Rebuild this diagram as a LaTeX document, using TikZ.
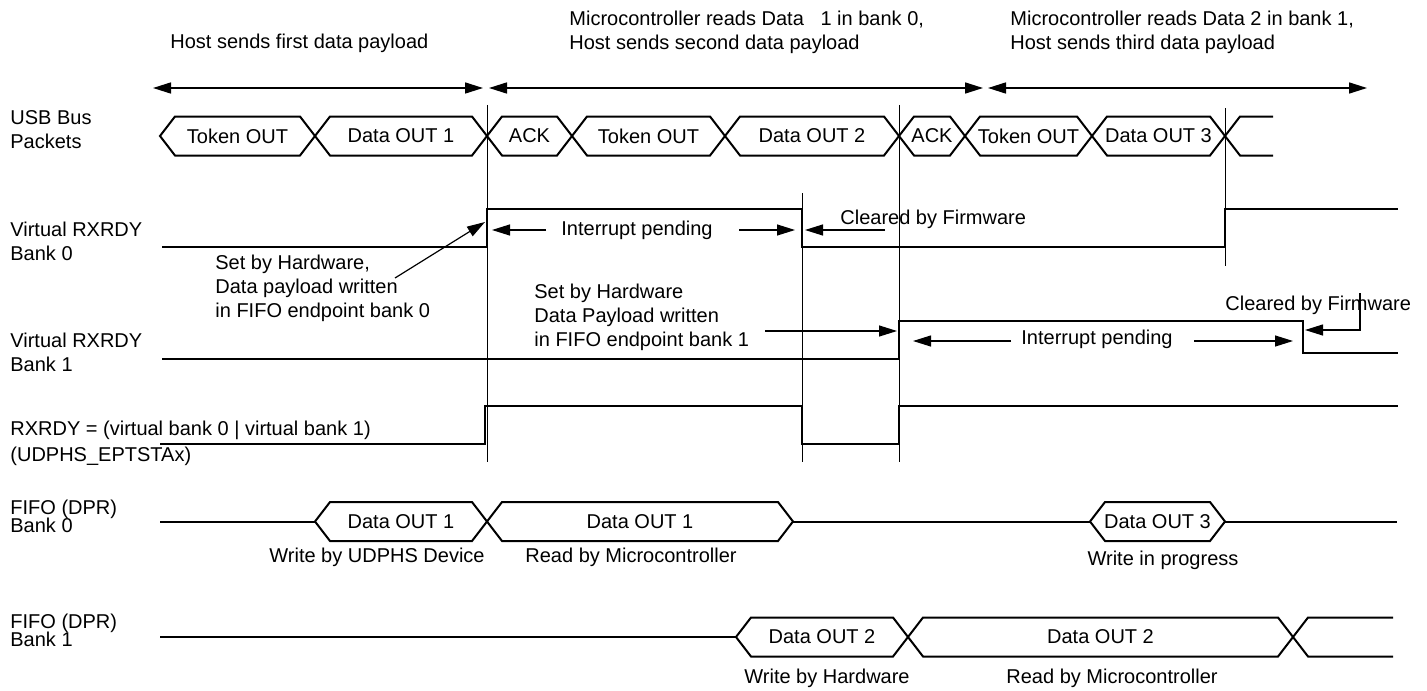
\documentclass[tikz,border=0pt]{standalone}
\usepackage{fontspec}
\setmainfont{Liberation Sans}
\usetikzlibrary{arrows.meta}

% packet on a bus: name, left x, right x, middle y, text
\newcommand{\pkt}[5]{%
  \draw[bus] (#2,#4) -- (#2+15,#4-19.5) -- (#3-15,#4-19.5) -- (#3,#4)
    -- (#3-15,#4+19.5) -- (#2+15,#4+19.5) -- cycle;
  \node[txt] (#1) at ({(#2+#3)/2},#4) {#5};}
% open packet at the right end: left x, right x, middle y
\newcommand{\pktend}[3]{%
  \draw[bus] (#2,#3-19.5) -- (#1+15,#3-19.5) -- (#1,#3) -- (#1+15,#3+19.5) -- (#2,#3+19.5);}

\begin{document}
\begin{tikzpicture}[
    x=0.5pt, y=-0.5pt,
    txt/.style={inner sep=0pt},
    lane/.style={txt, anchor=west, align=left},
    bus/.style={line width=1pt},
    sig/.style={line width=1.3pt},
    marker/.style={line width=0.5pt},
    arr/.style={-{Triangle[length=9pt, width=5.5pt]}, line width=0.6pt},
    span/.style={{Triangle[length=9pt, width=5.5pt]}-{Triangle[length=9pt, width=5.5pt]}, line width=0.8pt}
]
\useasboundingbox (0,0) rectangle (1427,690);

% --- Fases ---
\node[lane] (ph1) at (170,43) {Host sends first data payload};
\node[lane] (ph2) at (569,32) {Microcontroller reads Data\ \ \ 1 in bank 0,\\Host sends second data payload};
\node[lane] (ph3) at (1010,32) {Microcontroller reads Data 2 in bank 1,\\Host sends third data payload};

\coordinate (s1a) at (153,88);  \coordinate (s1b) at (483,88);
\coordinate (s2a) at (489,88);  \coordinate (s2b) at (983,88);
\coordinate (s3a) at (988,88);  \coordinate (s3b) at (1367,88);
\draw[span] (s1a) -- (s1b);
\draw[span] (s2a) -- (s2b);
\draw[span] (s3a) -- (s3b);

% --- Nombres de senales ---
\node[lane] (usb) at (10,130) {USB Bus\\Packets};
\node[lane] (vb0) at (10,241) {Virtual RXRDY\\Bank 0};
\node[lane] (vb1) at (10,352) {Virtual RXRDY\\Bank 1};
\node[lane] (rxrdy) at (10,443) {RXRDY = (virtual bank 0 | virtual bank 1)\\[1pt](UDPHS\_EPTSTAx)};
\node[lane] (ff0) at (10,516) {FIFO (DPR)\\[-3pt]Bank 0};
\node[lane] (ff1) at (10,630) {FIFO (DPR)\\[-3pt]Bank 1};

% --- Marcas de tiempo ---
\draw[marker] (487,105) -- (487,462);
\draw[marker] (802,193) -- (802,462);
\draw[marker] (899,105) -- (899,462);
\draw[marker] (1225,108) -- (1225,266);

% --- Bus USB ---
\pkt{tok1}{160}{315}{136}{Token OUT}
\pkt{dat1}{315}{487}{136}{Data OUT 1}
\pkt{ack1}{487}{572}{136}{ACK}
\pkt{tok2}{572}{725}{136}{Token OUT}
\pkt{dat2}{725}{899}{136}{Data OUT 2}
\pkt{ack2}{899}{965}{136}{ACK}
\pkt{tok3}{965}{1092}{136}{Token OUT}
\pkt{dat3}{1092}{1225}{136}{Data OUT 3}
\pktend{1225}{1273}{136}

% --- RXRDY virtuales y RXRDY ---
\draw[sig] (162,247) -- (487,247) -- (487,209) -- (802,209) -- (802,247)
    -- (1225,247) -- (1225,209) -- (1398,209);
\draw[sig] (162,359) -- (899,359) -- (899,321) -- (1303,321) -- (1303,353) -- (1398,353);
\draw[sig] (160,444) -- (485,444) -- (485,406) -- (802,406) -- (802,444)
    -- (899,444) -- (899,406) -- (1398,406);

% --- FIFO banco 0 ---
\draw[bus] (160,521.5) -- (315,521.5);
\pkt{wr1}{315}{487}{521.5}{Data OUT 1}
\pkt{rd1}{487}{793}{521.5}{Data OUT 1}
\draw[bus] (793,521.5) -- (1090,521.5);
\pkt{wr3}{1090}{1225}{521.5}{Data OUT 3}
\draw[bus] (1225,521.5) -- (1397,521.5);
\node[txt] (wr1t) at (377,557) {Write by UDPHS Device};
\node[txt] (rd1t) at (631,557) {Read by Microcontroller};
\node[txt] (wr3t) at (1163,560) {Write in progress};

% --- FIFO banco 1 ---
\draw[bus] (160,637) -- (736,637);
\pkt{wr2}{736}{908}{637}{Data OUT 2}
\pkt{rd2}{908}{1293}{637}{Data OUT 2}
\pktend{1293}{1393}{637}
\node[txt] (wr2t) at (827,678) {Write by Hardware};
\node[txt] (rd2t) at (1112,678) {Read by Microcontroller};

% --- Anotaciones banco 0 ---
\node[lane] (set0) at (215,288) {Set by Hardware,\\Data payload written\\in FIFO endpoint bank 0};
\coordinate (set0a) at (395,278);  \coordinate (set0b) at (485,222);
\draw[arr] (set0a) -- (set0b);

\node[txt] (int0) at (637,230) {Interrupt pending};
\coordinate (int0l) at (492,230);  \coordinate (int0r) at (795,230);
\draw[arr] ([xshift=-7.5pt]int0.west) -- (int0l);
\draw[arr] ([xshift=13pt]int0.east) -- (int0r);

\node[lane] (clr0) at (840,219) {Cleared by Firmware};
\coordinate (clr0a) at (885,230);  \coordinate (clr0b) at (805,230);
\draw[arr] (clr0a) -- (clr0b);

% --- Anotaciones banco 1 ---
\node[lane] (set1) at (534,317) {Set by Hardware\\Data Payload written\\in FIFO endpoint bank 1};
\coordinate (set1a) at (765,331);  \coordinate (set1b) at (897,331);
\draw[arr] (set1a) -- (set1b);

\node[txt] (int1) at (1097,339) {Interrupt pending};
\coordinate (int1l) at (913,341);  \coordinate (int1r) at (1293,341);
\draw[arr] ([xshift=-5pt, yshift=-1pt]int1.west) -- (int1l);
\draw[arr] ([xshift=10.5pt, yshift=-1pt]int1.east) -- (int1r);

\node[lane] (clr1) at (1225,305) {Cleared by Firmware};
\coordinate (clr1a) at (1360,293);  \coordinate (clr1b) at (1305,330);
\draw[arr] (clr1a) |- (clr1b);

\end{tikzpicture}
\end{document}
